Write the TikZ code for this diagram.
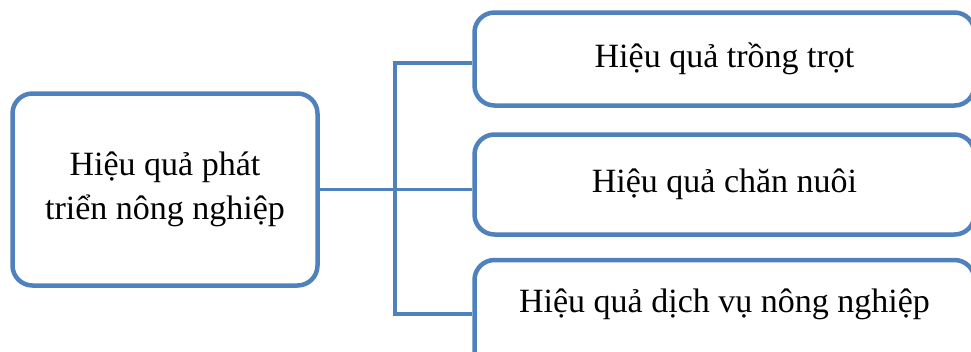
\documentclass[tikz,border=0pt]{standalone}
\usepackage{fontspec}
\setmainfont{Liberation Serif}
\definecolor{tbblue}{HTML}{4F81BD}
\usetikzlibrary{positioning}

\begin{document}
\begin{tikzpicture}[x=1pt,y=-1pt,
    box/.style={draw=tbblue,line width=4.5pt,rounded corners=20pt,fill=white,
      align=center,inner sep=0pt,font=\fontsize{34}{44}\selectfont},
    leaf/.style={box,minimum width=500pt,text height=24pt,text depth=8pt},
    link/.style={draw=tbblue,line width=3.5pt}]
    \useasboundingbox (0,0) rectangle (971,351);
    \clip (0,0) rectangle (971,351);
    % root box on the left
    \node[box,minimum width=305pt,minimum height=192pt] (root) at (165,189.5)
      {Hiệu quả phát\\triển nông nghiệp};
    % the three branches on the right, running off the right edge
    \node[leaf,minimum height=93pt,xshift=-3pt] (crop) at (727.5,59) {Hiệu quả trồng trọt};
    \node[leaf,minimum height=100pt,xshift=-3pt] (stock) at (727.5,184.5) {Hiệu quả chăn nuôi};
    \node[leaf,minimum height=110pt,text depth=30pt,xshift=-3pt] (serv) at (727.5,315)
      {Hiệu quả dịch vụ nông nghiệp};
    % connectors
    \coordinate (jt) at (395,63);
    \coordinate (jb) at (395,314);
    \draw[link] (crop.west |- jt) -- (jt) -- (jb) -- (jb -| serv.west);
    \draw[link] (root.east) -- (root.east -| stock.west);
  \end{tikzpicture}
\end{document}
